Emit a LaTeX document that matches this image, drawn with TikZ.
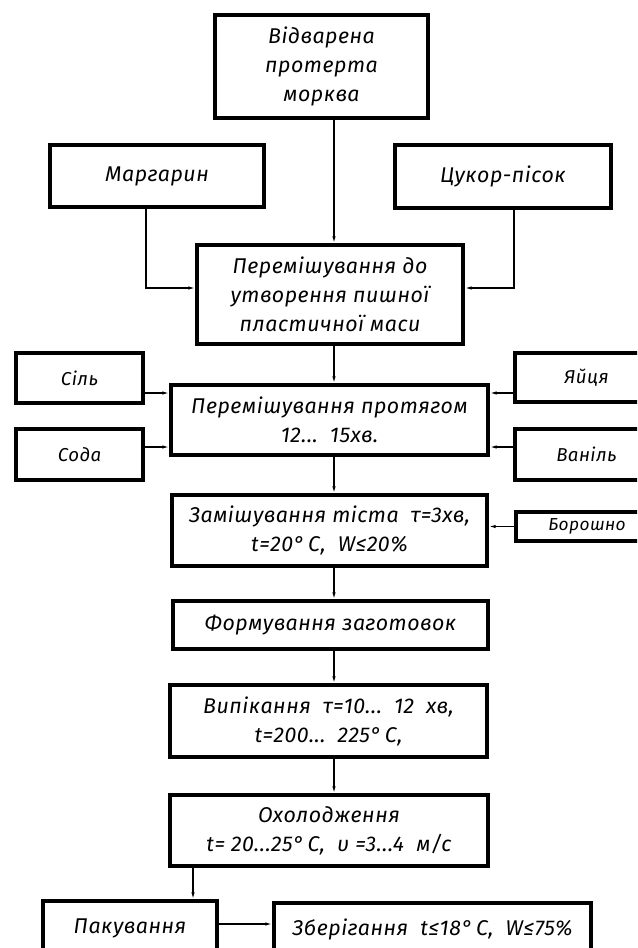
\documentclass[tikz,border=0pt]{standalone}
\usepackage{fontspec}
\setmainfont{Fira Sans}[LetterSpace=2.5]
\usetikzlibrary{arrows.meta}
\begin{document}
\begin{tikzpicture}[x=0.75pt,y=-0.75pt,
  box/.style={draw, line width=3pt, rectangle, inner sep=0pt, align=center,
    font=\itshape\fontsize{16}{21.75}\selectfont},
  sbox/.style={box, font=\itshape\fontsize{14}{18}\selectfont},
  tbox/.style={box, font=\itshape\fontsize{13}{16}\selectfont},
  conn/.style={line width=0.9pt, -{Latex[length=5pt,width=2.6pt]}}]
\useasboundingbox (0,0) rectangle (637,948);
\clip (0,0) rectangle (637,948);
% nodes
\node[box, minimum width=159.75pt, minimum height=77.25pt] (top) at (321.5,66.5) {Відварена\\протерта\\морква};
\node[box, minimum width=160.5pt, minimum height=46.5pt] (marg) at (157,176) {Маргарин};
\node[box, minimum width=162pt, minimum height=47.25pt] (sugar) at (503,176.5) {Цукор-пісок};
\node[box, minimum width=199.5pt, minimum height=74.25pt] (mix1) at (330,294.5) {Перемішування до\\утворення пишної\\пластичної маси};
\node[sbox, minimum width=95.25pt, minimum height=37.5pt] (salt) at (79.5,378) {Сіль};
\node[sbox, minimum width=95.25pt, minimum height=38.25pt] (soda) at (79.5,454.5) {Сода};
\node[box, minimum width=237.75pt, minimum height=52.5pt] (mix2) at (329.5,420) {Перемішування протягом\\12...~~15хв.};
\node[sbox, minimum width=107.25pt, minimum height=36.75pt] (eggs) at (586.5,377.5) {Яйця};
\node[sbox, minimum width=107.25pt, minimum height=38.25pt] (van) at (586.5,454.5) {Ваніль};
\node[box, minimum width=236.25pt, minimum height=53.25pt] (zam) at (329.5,530.5) {Замішування тіста~~τ=3хв,\\t=20°\,C,~~W≤20\%};
\node[tbox, minimum width=106.5pt, minimum height=21.75pt] (flour) at (587,526.5) {Борошно};
\node[box, minimum width=236.25pt, minimum height=36pt] (form) at (330.5,625) {Формування заготовок};
\node[box, minimum width=237.75pt, minimum height=54pt] (bake) at (328.5,721) {Випікання~~τ=10...~~12~~хв,\\t=200...~~225°\,C,};
\node[box, minimum width=238.5pt, minimum height=53.25pt] (cool) at (329,830.5) {Охолодження\\t=~20...25°\,C,~~υ~=3...4~~м/с};
\node[box, minimum width=130.5pt, minimum height=41.25pt] (pack) at (130,928.5) {Пакування};
\node[box, minimum width=237.75pt, minimum height=39.75pt] (store) at (432.5,929.5) {Зберігання~~t≤18°\,C,~~W≤75\%};
% helper coordinates
\coordinate (col) at (334,0);
\coordinate (mx) at (146,288);
\coordinate (sx) at (514,288);
\coordinate (r1) at (0,393);
\coordinate (r2) at (0,447);
\coordinate (px) at (193,0);
\coordinate (r5) at (0,924);
% connectors
\draw[conn] (top.south -| col) -- (mix1.north -| col);
\draw[conn] (marg.south -| mx) |- (mix1.west |- mx);
\draw[conn] (sugar.south -| sx) |- (mix1.east |- sx);
\draw[conn] (mix1.south -| col) -- (mix2.north -| col);
\draw[conn] (salt.east |- r1) -- (mix2.west |- r1);
\draw[conn] (soda.east |- r2) -- (mix2.west |- r2);
\draw[conn] (eggs.west |- r1) -- (mix2.east |- r1);
\draw[conn] (van.west |- r2) -- (mix2.east |- r2);
\draw[conn] (mix2.south -| col) -- (zam.north -| col);
\draw[conn] (flour.west) -- (zam.east |- flour.west);
\draw[conn] (zam.south -| col) -- (form.north -| col);
\draw[conn] (form.south -| col) -- (bake.north -| col);
\draw[conn] (bake.south -| col) -- (cool.north -| col);
\draw[conn] (cool.south -| px) -- (pack.north -| px);
\draw[conn] (pack.east |- r5) -- (store.west |- r5);
\end{tikzpicture}
\end{document}
